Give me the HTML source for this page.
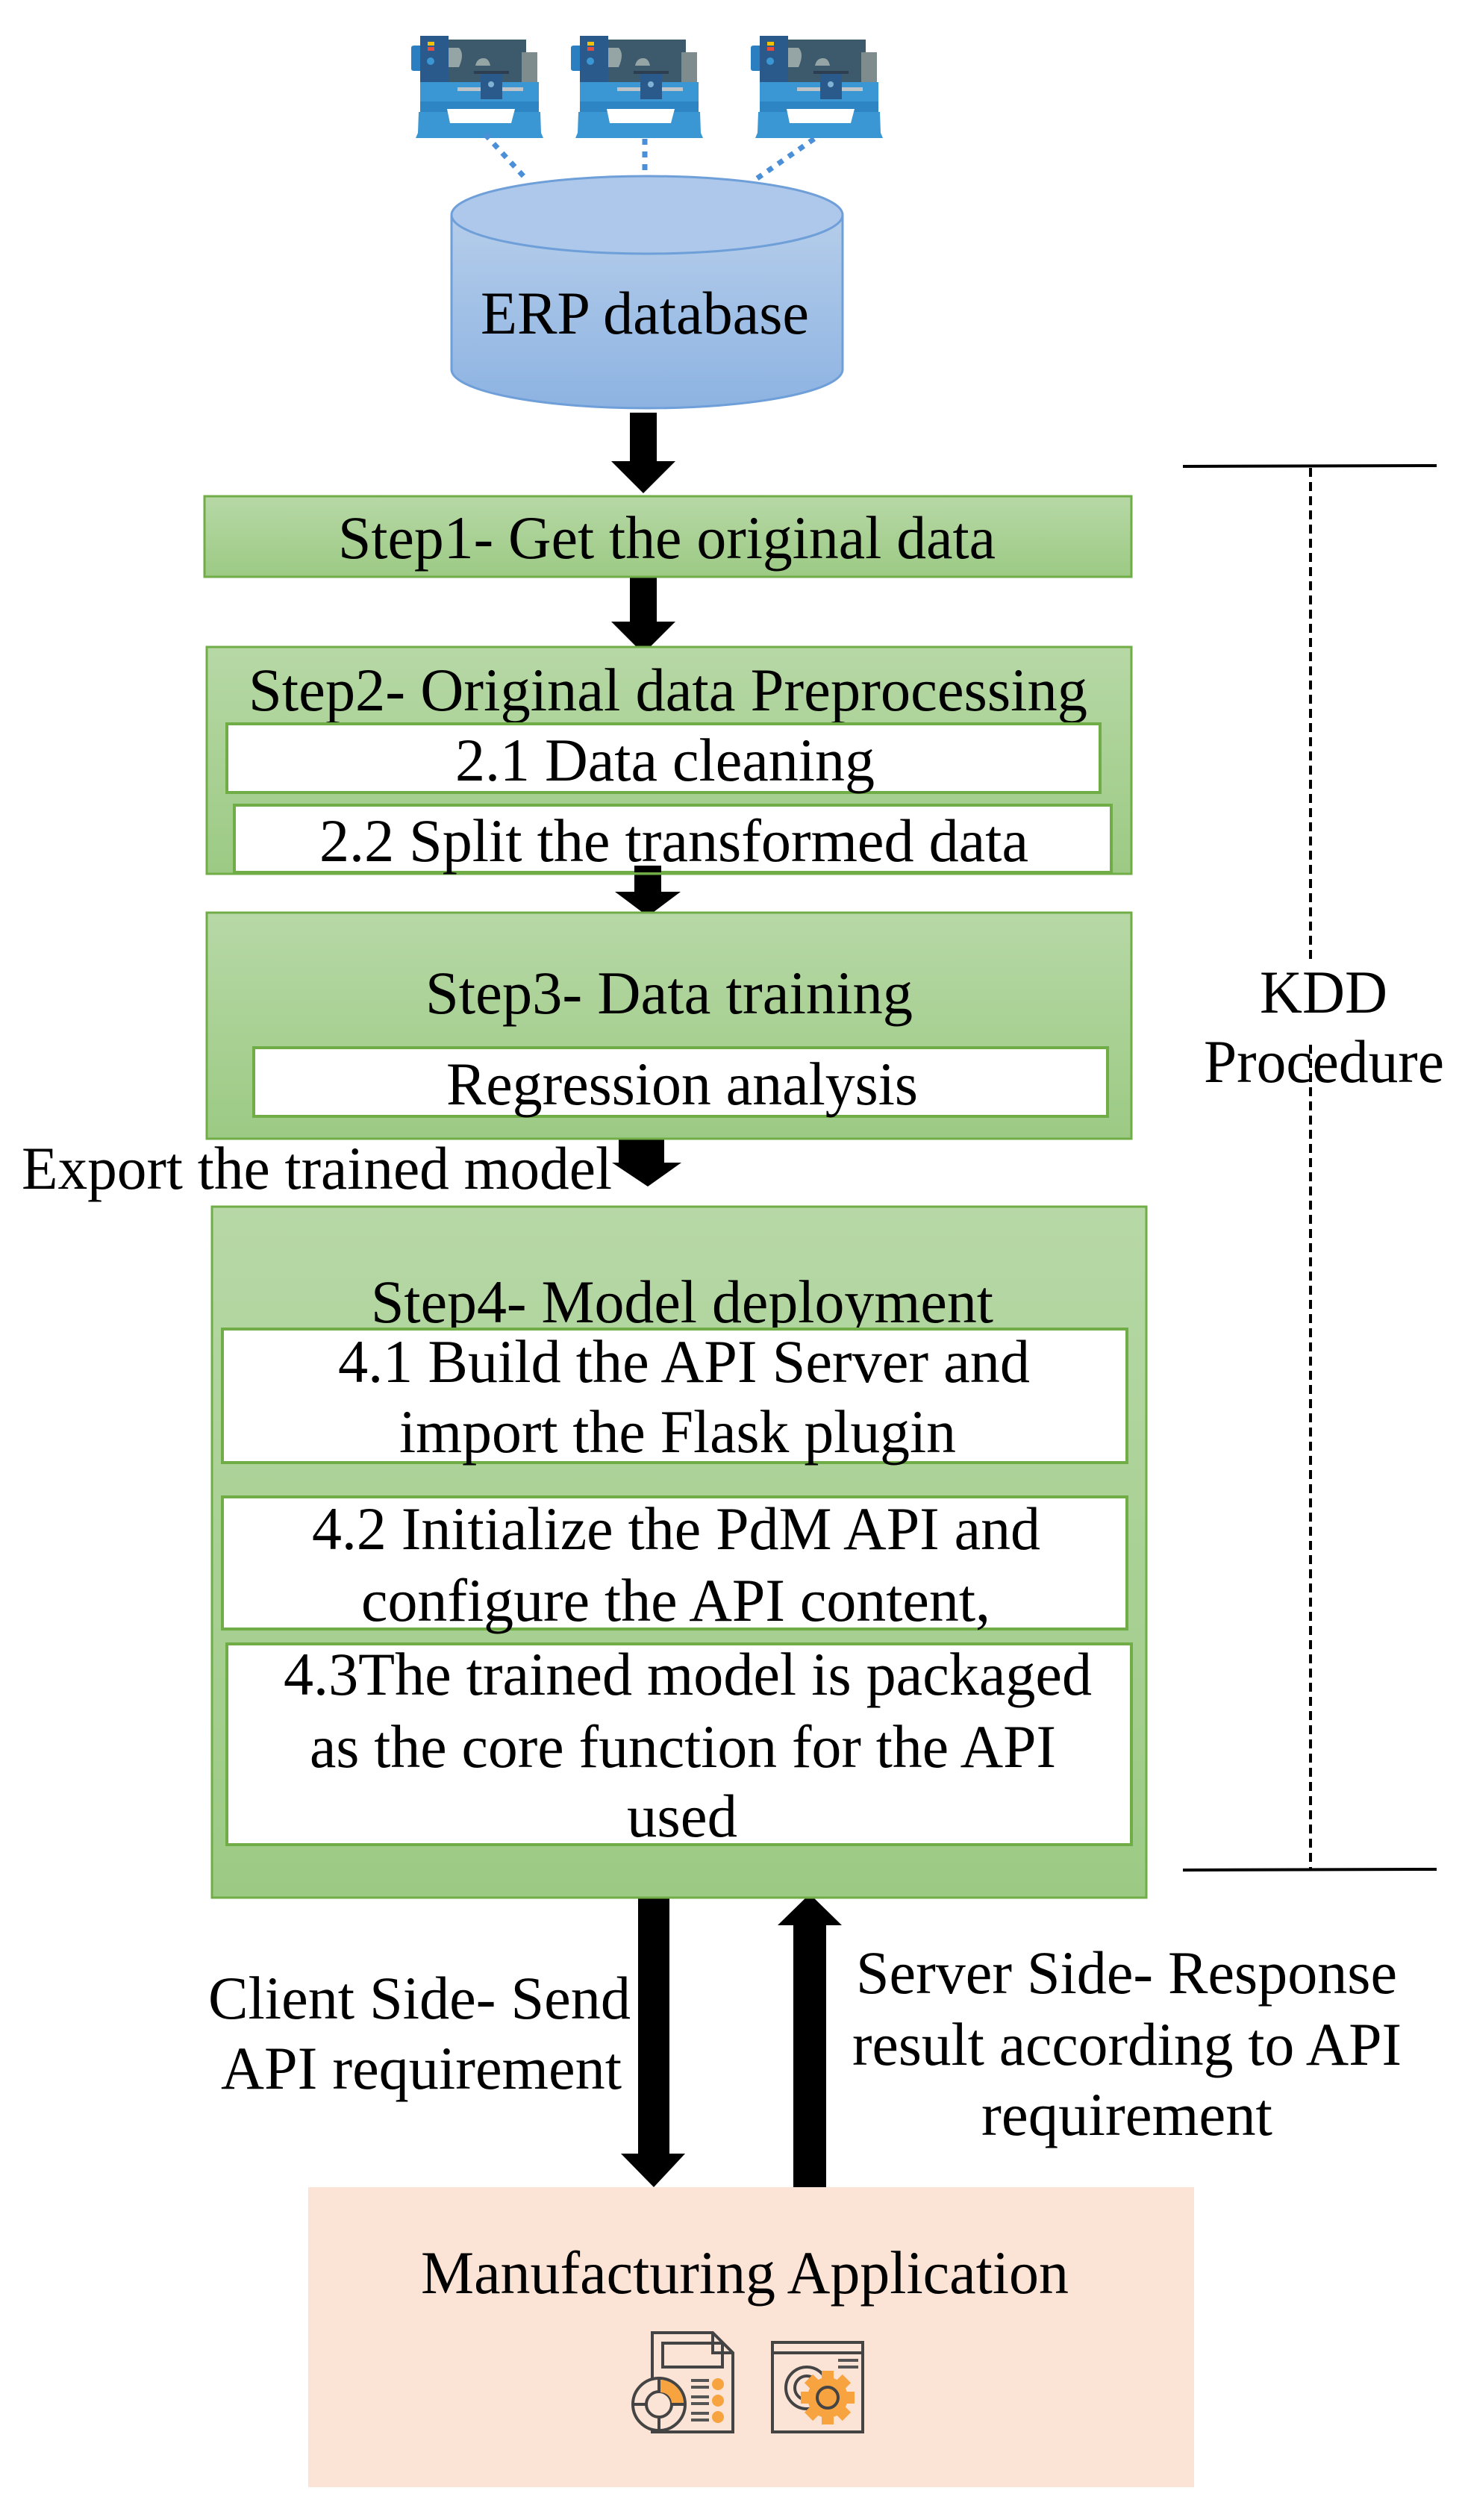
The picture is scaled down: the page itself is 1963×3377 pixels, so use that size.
<!DOCTYPE html>
<html><head><meta charset="utf-8"><style>
html,body{margin:0;padding:0;background:#fff;}
svg{display:block;}
text{font-family:"Liberation Serif",serif;font-size:82px;fill:#000;}
</style></head><body>
<svg width="1963" height="3377" viewBox="0 0 1963 3377" xmlns="http://www.w3.org/2000/svg">
<defs>
<linearGradient id="g" x1="0" y1="0" x2="0" y2="1"><stop offset="0" stop-color="#b7d8a6"/><stop offset="1" stop-color="#9cca84"/></linearGradient>
<linearGradient id="b" x1="0" y1="0" x2="0" y2="1"><stop offset="0" stop-color="#b5cdea"/><stop offset="1" stop-color="#8db3e2"/></linearGradient>
<g id="m">
<path d="M-6 16 Q-6 13 -2 13 L8 13 L8 47 L-2 47 Q-6 47 -6 44Z" fill="#2b7fc0"/>
<rect x="8" y="5" width="140" height="57" fill="#3d5a6c"/>
<rect x="6" y="0" width="38" height="62" fill="#2a5a8c"/>
<rect x="16" y="8" width="9" height="5" fill="#f2c200"/>
<rect x="16" y="15" width="9" height="5" fill="#e74c3c"/>
<circle cx="20" cy="34" r="5" fill="#3a97d4"/>
<path d="M44 16 L58 16 Q66 24 58 42 L44 42Z" fill="#95a5a6"/>
<rect x="142" y="22" width="21" height="40" fill="#7f8c8d"/>
<path d="M80 40 Q82 30 91 30 Q98 30 100 40Z" fill="#95a5a6"/>
<rect x="6" y="62" width="159" height="40" fill="#3a97d4"/>
<rect x="6" y="88" width="159" height="14" fill="#2d86c3"/>
<rect x="56" y="69" width="88" height="5" fill="#bdc3c7"/>
<rect x="78" y="47" width="47" height="4" fill="#2c3e50"/>
<rect x="87" y="51" width="29" height="34" fill="#2a5a8c"/>
<circle cx="101" cy="65" r="4" fill="#7fb3d5"/>
<path d="M4 102 L167 102 L168 130 L171 137 L0 137 L3 130Z" fill="#3a97d4"/>
<path d="M42 98 L133 98 L128 117 L46 117Z" fill="#fff"/>
</g>
</defs>

<use href="#m" x="557" y="48"/>
<use href="#m" x="771" y="48"/>
<use href="#m" x="1012" y="48"/>
<g stroke="#4a8fd8" stroke-width="7" stroke-dasharray="8 9">
<line x1="650" y1="180" x2="705" y2="240"/>
<line x1="864" y1="186" x2="864" y2="236"/>
<line x1="1091" y1="186" x2="1013" y2="240"/>
</g>

<path d="M605 288 L605 495 A262 52 0 0 0 1129 495 L1129 288" fill="url(#b)" stroke="#6f9fd8" stroke-width="3"/>
<ellipse cx="867" cy="288" rx="262" ry="52" fill="#adc8ea" stroke="#6f9fd8" stroke-width="3"/>
<text x="644" y="447" textLength="440" lengthAdjust="spacingAndGlyphs">ERP database</text>

<g fill="#000">
<path d="M844 553 L880 553 L880 618 L905 618 L862 661 L819 618 L844 618Z"/>
<path d="M844 770 L880 770 L880 833 L905 833 L862 876 L819 833 L844 833Z"/>
<path d="M850 1169 L886 1169 L886 1195 L912 1195 L868 1228 L824 1195 L850 1195Z"/>
<path d="M829 1527 L890 1527 L890 1558 L913 1558 L868 1590 L820 1558 L829 1558Z"/>
<path d="M855 2531 L897 2531 L897 2886 L918 2886 L876 2931 L832 2886 L855 2886Z"/>
<path d="M1063 2937 L1107 2937 L1107 2580 L1128 2580 L1085 2538 L1042 2580 L1063 2580Z"/>
</g>

<line x1="1585" y1="625" x2="1925" y2="624" stroke="#000" stroke-width="4"/>
<line x1="1585" y1="2506" x2="1925" y2="2505" stroke="#000" stroke-width="4"/>
<g stroke="#000" stroke-width="4" stroke-dasharray="12 7">
<line x1="1756" y1="627" x2="1756" y2="1290"/>
<line x1="1756" y1="1400" x2="1756" y2="2504"/>
</g>
<text x="1688" y="1357" textLength="171" lengthAdjust="spacingAndGlyphs">KDD</text>
<text x="1613" y="1450" textLength="322" lengthAdjust="spacingAndGlyphs">Procedure</text>

<rect x="274" y="665" width="1242" height="108" fill="url(#g)" stroke="#70ad47" stroke-width="3"/>
<text x="453" y="748" textLength="881" lengthAdjust="spacingAndGlyphs">Step1- Get the original data</text>

<rect x="277" y="867" width="1239" height="304" fill="url(#g)" stroke="#70ad47" stroke-width="3"/>
<text x="333" y="952" textLength="1124" lengthAdjust="spacingAndGlyphs">Step2- Original data Preprocessing</text>
<rect x="304" y="970" width="1170" height="92" fill="#fff" stroke="#70ad47" stroke-width="4"/>
<text x="610" y="1046" textLength="562" lengthAdjust="spacingAndGlyphs">2.1 Data cleaning</text>
<rect x="314" y="1079" width="1175" height="90" fill="#fff" stroke="#70ad47" stroke-width="4"/>
<text x="428" y="1154" textLength="950" lengthAdjust="spacingAndGlyphs">2.2 Split the transformed data</text>
<path d="M850 1160 L886 1160 L886 1169 L850 1169Z" fill="#000"/>

<rect x="277" y="1223" width="1239" height="303" fill="url(#g)" stroke="#70ad47" stroke-width="3"/>
<text x="570" y="1358" textLength="653" lengthAdjust="spacingAndGlyphs">Step3- Data training</text>
<rect x="340" y="1404" width="1144" height="92" fill="#fff" stroke="#70ad47" stroke-width="4"/>
<text x="598" y="1480" textLength="632" lengthAdjust="spacingAndGlyphs">Regression analysis</text>

<text x="29" y="1593" textLength="791" lengthAdjust="spacingAndGlyphs">Export the trained model</text>

<rect x="284" y="1617" width="1252" height="926" fill="url(#g)" stroke="#70ad47" stroke-width="3"/>
<text x="497" y="1772" textLength="834" lengthAdjust="spacingAndGlyphs">Step4- Model deployment</text>
<rect x="298" y="1781" width="1212" height="179" fill="#fff" stroke="#70ad47" stroke-width="4"/>
<text x="453" y="1852" textLength="927" lengthAdjust="spacingAndGlyphs">4.1 Build the API Server and</text>
<text x="535" y="1946" textLength="746" lengthAdjust="spacingAndGlyphs">import the Flask plugin</text>
<rect x="298" y="2006" width="1212" height="177" fill="#fff" stroke="#70ad47" stroke-width="4"/>
<text x="418" y="2076" textLength="976" lengthAdjust="spacingAndGlyphs">4.2 Initialize the PdM API and</text>
<text x="484" y="2172" textLength="843" lengthAdjust="spacingAndGlyphs">configure the API content,</text>
<rect x="304" y="2203" width="1212" height="269" fill="#fff" stroke="#70ad47" stroke-width="4"/>
<text x="380" y="2271" textLength="1083" lengthAdjust="spacingAndGlyphs">4.3The trained model is packaged</text>
<text x="415" y="2368" textLength="1000" lengthAdjust="spacingAndGlyphs">as the core function for the API</text>
<text x="840" y="2461" textLength="148" lengthAdjust="spacingAndGlyphs">used</text>

<text x="279" y="2705" textLength="566" lengthAdjust="spacingAndGlyphs">Client Side- Send</text>
<text x="296" y="2799" textLength="537" lengthAdjust="spacingAndGlyphs">API requirement</text>
<text x="1147" y="2671" textLength="725" lengthAdjust="spacingAndGlyphs">Server Side- Response</text>
<text x="1142" y="2767" textLength="736" lengthAdjust="spacingAndGlyphs">result according to API</text>
<text x="1315" y="2861" textLength="390" lengthAdjust="spacingAndGlyphs">requirement</text>

<rect x="413" y="2931" width="1187" height="402" fill="#fbe3d5"/>
<text x="564" y="3073" textLength="868" lengthAdjust="spacingAndGlyphs">Manufacturing Application</text>

<g fill="none" stroke="#444" stroke-width="4">
<path d="M874 3126 L955 3126 L982 3153 L982 3259 L874 3259Z" fill="#fbe3d5"/>
<path d="M955 3126 L955 3153 L982 3153"/>
<rect x="888" y="3140" width="80" height="32"/>
<circle cx="883" cy="3222" r="35" fill="#fbe3d5"/>
<circle cx="883" cy="3222" r="17"/>
<line x1="883" y1="3187" x2="883" y2="3205"/><line x1="883" y1="3239" x2="883" y2="3257"/>
<line x1="848" y1="3222" x2="866" y2="3222"/><line x1="900" y1="3222" x2="918" y2="3222"/>
</g>
<path d="M885 3189 A33 33 0 0 1 916 3220 L900 3220 A15 15 0 0 0 885 3206Z" fill="#f7a440"/>
<g fill="#555"><rect x="926" y="3188" width="24" height="4"/><rect x="926" y="3197" width="24" height="4"/><rect x="926" y="3210" width="24" height="4"/><rect x="926" y="3219" width="24" height="4"/><rect x="926" y="3232" width="24" height="4"/><rect x="926" y="3241" width="24" height="4"/></g>
<g fill="#f7a440"><circle cx="962" cy="3195" r="8"/><circle cx="962" cy="3217" r="8"/><circle cx="962" cy="3239" r="8"/></g>

<rect x="1035" y="3139" width="121" height="120" fill="none" stroke="#444" stroke-width="4"/>
<line x1="1035" y1="3153" x2="1156" y2="3153" stroke="#444" stroke-width="4"/>
<g fill="#555"><rect x="1123" y="3161" width="27" height="4"/><rect x="1123" y="3170" width="27" height="4"/></g>
<circle cx="1081" cy="3200" r="28" fill="none" stroke="#444" stroke-width="4"/>
<circle cx="1081" cy="3200" r="16" fill="none" stroke="#444" stroke-width="4"/>
<g fill="#f7a440">
<circle cx="1109" cy="3213" r="27"/>
<rect x="1101" y="3177" width="16" height="72"/>
<rect x="1073" y="3205" width="72" height="16"/>
<rect x="1101" y="3177" width="16" height="72" transform="rotate(45 1109 3213)"/>
<rect x="1101" y="3177" width="16" height="72" transform="rotate(-45 1109 3213)"/>
</g>
<circle cx="1109" cy="3213" r="14" fill="none" stroke="#444" stroke-width="4"/>
</svg>
</body></html>
